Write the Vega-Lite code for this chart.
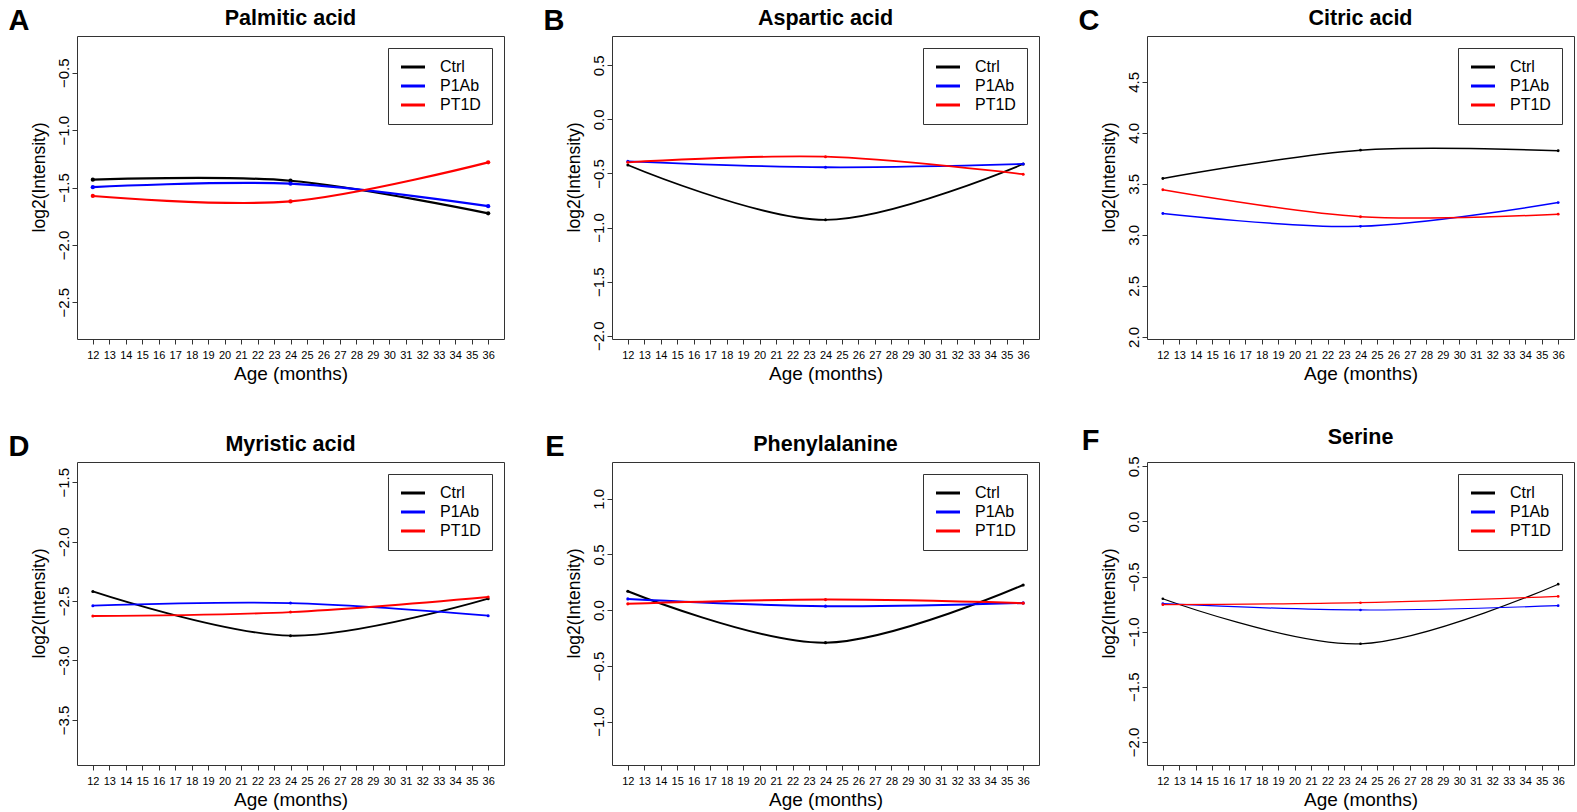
{
  "$schema": "https://vega.github.io/schema/vega-lite/v6.json",
  "background": "white",
  "padding": {"left": 8, "top": 7, "right": 0, "bottom": 0},
  "datasets": {
    "m": [
      {"panel": "A", "group": "Ctrl", "age": 12, "value": -1.432},
      {"panel": "A", "group": "Ctrl", "age": 24, "value": -1.441},
      {"panel": "A", "group": "Ctrl", "age": 36, "value": -1.725},
      {"panel": "A", "group": "P1Ab", "age": 12, "value": -1.497},
      {"panel": "A", "group": "P1Ab", "age": 24, "value": -1.467},
      {"panel": "A", "group": "P1Ab", "age": 36, "value": -1.663},
      {"panel": "A", "group": "PT1D", "age": 12, "value": -1.574},
      {"panel": "A", "group": "PT1D", "age": 24, "value": -1.621},
      {"panel": "A", "group": "PT1D", "age": 36, "value": -1.281},
      {"panel": "B", "group": "Ctrl", "age": 12, "value": -0.422},
      {"panel": "B", "group": "Ctrl", "age": 24, "value": -0.929},
      {"panel": "B", "group": "Ctrl", "age": 36, "value": -0.413},
      {"panel": "B", "group": "P1Ab", "age": 12, "value": -0.388},
      {"panel": "B", "group": "P1Ab", "age": 24, "value": -0.443},
      {"panel": "B", "group": "P1Ab", "age": 36, "value": -0.413},
      {"panel": "B", "group": "PT1D", "age": 12, "value": -0.397},
      {"panel": "B", "group": "PT1D", "age": 24, "value": -0.345},
      {"panel": "B", "group": "PT1D", "age": 36, "value": -0.507},
      {"panel": "C", "group": "Ctrl", "age": 12, "value": 3.553},
      {"panel": "C", "group": "Ctrl", "age": 24, "value": 3.831},
      {"panel": "C", "group": "Ctrl", "age": 36, "value": 3.825},
      {"panel": "C", "group": "P1Ab", "age": 12, "value": 3.21},
      {"panel": "C", "group": "P1Ab", "age": 24, "value": 3.084},
      {"panel": "C", "group": "P1Ab", "age": 36, "value": 3.317},
      {"panel": "C", "group": "PT1D", "age": 12, "value": 3.443},
      {"panel": "C", "group": "PT1D", "age": 24, "value": 3.178},
      {"panel": "C", "group": "PT1D", "age": 36, "value": 3.204},
      {"panel": "D", "group": "Ctrl", "age": 12, "value": -2.419},
      {"panel": "D", "group": "Ctrl", "age": 24, "value": -2.792},
      {"panel": "D", "group": "Ctrl", "age": 36, "value": -2.48},
      {"panel": "D", "group": "P1Ab", "age": 12, "value": -2.539},
      {"panel": "D", "group": "P1Ab", "age": 24, "value": -2.517},
      {"panel": "D", "group": "P1Ab", "age": 36, "value": -2.623},
      {"panel": "D", "group": "PT1D", "age": 12, "value": -2.626},
      {"panel": "D", "group": "PT1D", "age": 24, "value": -2.593},
      {"panel": "D", "group": "PT1D", "age": 36, "value": -2.466},
      {"panel": "E", "group": "Ctrl", "age": 12, "value": 0.17},
      {"panel": "E", "group": "Ctrl", "age": 24, "value": -0.292},
      {"panel": "E", "group": "Ctrl", "age": 36, "value": 0.226},
      {"panel": "E", "group": "P1Ab", "age": 12, "value": 0.101},
      {"panel": "E", "group": "P1Ab", "age": 24, "value": 0.036},
      {"panel": "E", "group": "P1Ab", "age": 36, "value": 0.065},
      {"panel": "E", "group": "PT1D", "age": 12, "value": 0.057},
      {"panel": "E", "group": "PT1D", "age": 24, "value": 0.095},
      {"panel": "E", "group": "PT1D", "age": 36, "value": 0.063},
      {"panel": "F", "group": "Ctrl", "age": 12, "value": -0.701},
      {"panel": "F", "group": "Ctrl", "age": 24, "value": -1.11},
      {"panel": "F", "group": "Ctrl", "age": 36, "value": -0.569},
      {"panel": "F", "group": "P1Ab", "age": 12, "value": -0.746},
      {"panel": "F", "group": "P1Ab", "age": 24, "value": -0.803},
      {"panel": "F", "group": "P1Ab", "age": 36, "value": -0.764},
      {"panel": "F", "group": "PT1D", "age": 12, "value": -0.755},
      {"panel": "F", "group": "PT1D", "age": 24, "value": -0.737},
      {"panel": "F", "group": "PT1D", "age": 36, "value": -0.68}
    ]
  },
  "columns": 3,
  "spacing": {"row": 42, "column": 38},
  "resolve": {"scale": {"x": "independent", "y": "independent", "color": "independent", "fill": "independent"}, "legend": {"color": "independent"}},
  "concat": [
    {
      "title": {"text": "A", "orient": "left", "anchor": "end", "angle": 0, "align": "left", "baseline": "top", "offset": 0, "fontSize": 29, "fontWeight": "bold"},
      "resolve": {"scale": {"x": "independent", "y": "independent", "color": "independent", "fill": "independent"}, "legend": {"color": "independent"}},
      "vconcat": [{
        "width": 427, "height": 303,
        "title": "Palmitic acid",
        "data": {"name": "m"},
        "transform": [{"filter": "datum.panel === 'A'"}],
        "encoding": {
          "x": {"field": "age", "type": "quantitative", "scale": {"domain": [11.04, 36.96], "nice": false, "zero": false}, "axis": {"values": [12,13,14,15,16,17,18,19,20,21,22,23,24,25,26,27,28,29,30,31,32,33,34,35,36], "format": "d", "title": "Age (months)"}},
          "y": {"field": "value", "type": "quantitative", "scale": {"domain": [-2.82, -0.18], "nice": false, "zero": false}, "axis": {"values": [-2.5, -2, -1.5, -1, -0.5], "format": ".1f", "title": "log2(Intensity)"}}
        },
        "layer": [
          {"mark": {"type": "line", "interpolate": "cardinal", "tension": 0, "strokeWidth": 2.2}, "encoding": {"color": {"field": "group", "type": "nominal", "scale": {"domain": ["Ctrl", "P1Ab", "PT1D"], "range": ["#000000", "#0000ff", "#ff0000"]}, "legend": {"title": null}}}},
          {"mark": {"type": "circle", "size": 18, "opacity": 1}, "encoding": {"fill": {"field": "group", "type": "nominal", "scale": {"domain": ["Ctrl", "P1Ab", "PT1D"], "range": ["#000000", "#0000ff", "#ff0000"]}, "legend": null}}}
        ]
      }]
    },
    {
      "title": {"text": "B", "orient": "left", "anchor": "end", "angle": 0, "align": "left", "baseline": "top", "offset": 0, "fontSize": 29, "fontWeight": "bold"},
      "resolve": {"scale": {"x": "independent", "y": "independent", "color": "independent", "fill": "independent"}, "legend": {"color": "independent"}},
      "vconcat": [{
        "width": 427, "height": 303,
        "title": "Aspartic acid",
        "data": {"name": "m"},
        "transform": [{"filter": "datum.panel === 'B'"}],
        "encoding": {
          "x": {"field": "age", "type": "quantitative", "scale": {"domain": [11.04, 36.96], "nice": false, "zero": false}, "axis": {"values": [12,13,14,15,16,17,18,19,20,21,22,23,24,25,26,27,28,29,30,31,32,33,34,35,36], "format": "d", "title": "Age (months)"}},
          "y": {"field": "value", "type": "quantitative", "scale": {"domain": [-2.03, 0.77], "nice": false, "zero": false}, "axis": {"values": [-2, -1.5, -1, -0.5, 0, 0.5], "format": ".1f", "title": "log2(Intensity)"}}
        },
        "layer": [
          {"mark": {"type": "line", "interpolate": "cardinal", "tension": 0, "strokeWidth": 1.8}, "encoding": {"color": {"field": "group", "type": "nominal", "scale": {"domain": ["Ctrl", "P1Ab", "PT1D"], "range": ["#000000", "#0000ff", "#ff0000"]}, "legend": {"title": null}}}},
          {"mark": {"type": "circle", "size": 9, "opacity": 1}, "encoding": {"fill": {"field": "group", "type": "nominal", "scale": {"domain": ["Ctrl", "P1Ab", "PT1D"], "range": ["#000000", "#0000ff", "#ff0000"]}, "legend": null}}}
        ]
      }]
    },
    {
      "title": {"text": "C", "orient": "left", "anchor": "end", "angle": 0, "align": "left", "baseline": "top", "offset": 0, "fontSize": 29, "fontWeight": "bold"},
      "resolve": {"scale": {"x": "independent", "y": "independent", "color": "independent", "fill": "independent"}, "legend": {"color": "independent"}},
      "vconcat": [{
        "width": 427, "height": 303,
        "title": "Citric acid",
        "data": {"name": "m"},
        "transform": [{"filter": "datum.panel === 'C'"}],
        "encoding": {
          "x": {"field": "age", "type": "quantitative", "scale": {"domain": [11.04, 36.96], "nice": false, "zero": false}, "axis": {"values": [12,13,14,15,16,17,18,19,20,21,22,23,24,25,26,27,28,29,30,31,32,33,34,35,36], "format": "d", "title": "Age (months)"}},
          "y": {"field": "value", "type": "quantitative", "scale": {"domain": [1.98, 4.95], "nice": false, "zero": false}, "axis": {"values": [2, 2.5, 3, 3.5, 4, 4.5], "format": ".1f", "title": "log2(Intensity)"}}
        },
        "layer": [
          {"mark": {"type": "line", "interpolate": "cardinal", "tension": 0, "strokeWidth": 1.5}, "encoding": {"color": {"field": "group", "type": "nominal", "scale": {"domain": ["Ctrl", "P1Ab", "PT1D"], "range": ["#000000", "#0000ff", "#ff0000"]}, "legend": {"title": null}}}},
          {"mark": {"type": "circle", "size": 8, "opacity": 1}, "encoding": {"fill": {"field": "group", "type": "nominal", "scale": {"domain": ["Ctrl", "P1Ab", "PT1D"], "range": ["#000000", "#0000ff", "#ff0000"]}, "legend": null}}}
        ]
      }]
    },
    {
      "title": {"text": "D", "orient": "left", "anchor": "end", "angle": 0, "align": "left", "baseline": "top", "offset": 0, "fontSize": 29, "fontWeight": "bold"},
      "resolve": {"scale": {"x": "independent", "y": "independent", "color": "independent", "fill": "independent"}, "legend": {"color": "independent"}},
      "vconcat": [{
        "width": 427, "height": 303,
        "title": "Myristic acid",
        "data": {"name": "m"},
        "transform": [{"filter": "datum.panel === 'D'"}],
        "encoding": {
          "x": {"field": "age", "type": "quantitative", "scale": {"domain": [11.04, 36.96], "nice": false, "zero": false}, "axis": {"values": [12,13,14,15,16,17,18,19,20,21,22,23,24,25,26,27,28,29,30,31,32,33,34,35,36], "format": "d", "title": "Age (months)"}},
          "y": {"field": "value", "type": "quantitative", "scale": {"domain": [-3.88, -1.33], "nice": false, "zero": false}, "axis": {"values": [-3.5, -3, -2.5, -2, -1.5], "format": ".1f", "title": "log2(Intensity)"}}
        },
        "layer": [
          {"mark": {"type": "line", "interpolate": "cardinal", "tension": 0, "strokeWidth": 1.8}, "encoding": {"color": {"field": "group", "type": "nominal", "scale": {"domain": ["Ctrl", "P1Ab", "PT1D"], "range": ["#000000", "#0000ff", "#ff0000"]}, "legend": {"title": null}}}},
          {"mark": {"type": "circle", "size": 9, "opacity": 1}, "encoding": {"fill": {"field": "group", "type": "nominal", "scale": {"domain": ["Ctrl", "P1Ab", "PT1D"], "range": ["#000000", "#0000ff", "#ff0000"]}, "legend": null}}}
        ]
      }]
    },
    {
      "title": {"text": "E", "orient": "left", "anchor": "end", "angle": 0, "align": "left", "baseline": "top", "offset": 0, "fontSize": 29, "fontWeight": "bold"},
      "resolve": {"scale": {"x": "independent", "y": "independent", "color": "independent", "fill": "independent"}, "legend": {"color": "independent"}},
      "vconcat": [{
        "width": 427, "height": 303,
        "title": "Phenylalanine",
        "data": {"name": "m"},
        "transform": [{"filter": "datum.panel === 'E'"}],
        "encoding": {
          "x": {"field": "age", "type": "quantitative", "scale": {"domain": [11.04, 36.96], "nice": false, "zero": false}, "axis": {"values": [12,13,14,15,16,17,18,19,20,21,22,23,24,25,26,27,28,29,30,31,32,33,34,35,36], "format": "d", "title": "Age (months)"}},
          "y": {"field": "value", "type": "quantitative", "scale": {"domain": [-1.39, 1.33], "nice": false, "zero": false}, "axis": {"values": [-1, -0.5, 0, 0.5, 1], "format": ".1f", "title": "log2(Intensity)"}}
        },
        "layer": [
          {"mark": {"type": "line", "interpolate": "cardinal", "tension": 0, "strokeWidth": 2}, "encoding": {"color": {"field": "group", "type": "nominal", "scale": {"domain": ["Ctrl", "P1Ab", "PT1D"], "range": ["#000000", "#0000ff", "#ff0000"]}, "legend": {"title": null}}}},
          {"mark": {"type": "circle", "size": 10, "opacity": 1}, "encoding": {"fill": {"field": "group", "type": "nominal", "scale": {"domain": ["Ctrl", "P1Ab", "PT1D"], "range": ["#000000", "#0000ff", "#ff0000"]}, "legend": null}}}
        ]
      }]
    },
    {
      "title": {"text": "F", "orient": "left", "anchor": "end", "angle": 0, "align": "left", "baseline": "top", "offset": 0, "fontSize": 29, "fontWeight": "bold"},
      "resolve": {"scale": {"x": "independent", "y": "independent", "color": "independent", "fill": "independent"}, "legend": {"color": "independent"}},
      "vconcat": [{
        "width": 427, "height": 303,
        "title": "Serine",
        "data": {"name": "m"},
        "transform": [{"filter": "datum.panel === 'F'"}],
        "encoding": {
          "x": {"field": "age", "type": "quantitative", "scale": {"domain": [11.04, 36.96], "nice": false, "zero": false}, "axis": {"values": [12,13,14,15,16,17,18,19,20,21,22,23,24,25,26,27,28,29,30,31,32,33,34,35,36], "format": "d", "title": "Age (months)"}},
          "y": {"field": "value", "type": "quantitative", "scale": {"domain": [-2.21, 0.54], "nice": false, "zero": false}, "axis": {"values": [-2, -1.5, -1, -0.5, 0, 0.5], "format": ".1f", "title": "log2(Intensity)"}}
        },
        "layer": [
          {"mark": {"type": "line", "interpolate": "cardinal", "tension": 0, "strokeWidth": 1.2}, "encoding": {"color": {"field": "group", "type": "nominal", "scale": {"domain": ["Ctrl", "P1Ab", "PT1D"], "range": ["#000000", "#0000ff", "#ff0000"]}, "legend": {"title": null}}}},
          {"mark": {"type": "circle", "size": 7, "opacity": 1}, "encoding": {"fill": {"field": "group", "type": "nominal", "scale": {"domain": ["Ctrl", "P1Ab", "PT1D"], "range": ["#000000", "#0000ff", "#ff0000"]}, "legend": null}}}
        ]
      }]
    }
  ],
  "config": {
    "font": "Liberation Sans",
    "view": {"stroke": "#333333", "strokeWidth": 1},
    "title": {"font": "Liberation Sans", "fontSize": 21.5, "fontWeight": "bold", "color": "black", "offset": 7, "baseline": "alphabetic", "anchor": "middle"},
    "axis": {"grid": false, "domain": false, "tickColor": "#333333", "labelColor": "black", "titleColor": "black", "labelFont": "Liberation Sans", "titleFont": "Liberation Sans", "titleFontWeight": "normal"},
    "axisX": {"labelFontSize": 11, "tickSize": 5, "labelPadding": 5, "titleFontSize": 19, "titlePadding": 4, "labelAngle": 0, "labelOverlap": false, "labelFlush": false},
    "axisY": {"labelFontSize": 15, "tickSize": 5, "labelPadding": 4, "labelAngle": 270, "labelAlign": "center", "labelBaseline": "alphabetic", "titleFontSize": 17.5, "titlePadding": 8, "titleY": 141, "labelFlush": false, "labelOverlap": false},
    "legend": {"orient": "top-right", "offset": 12, "symbolType": "M-2,0H2", "symbolStrokeWidth": 3, "symbolSize": 144, "symbolOffset": 6, "labelFont": "Liberation Sans", "labelFontSize": 16, "labelColor": "black", "labelOffset": 19, "rowPadding": 3, "padding": 11, "fillColor": "white", "strokeColor": "#333333"}
  }
}
